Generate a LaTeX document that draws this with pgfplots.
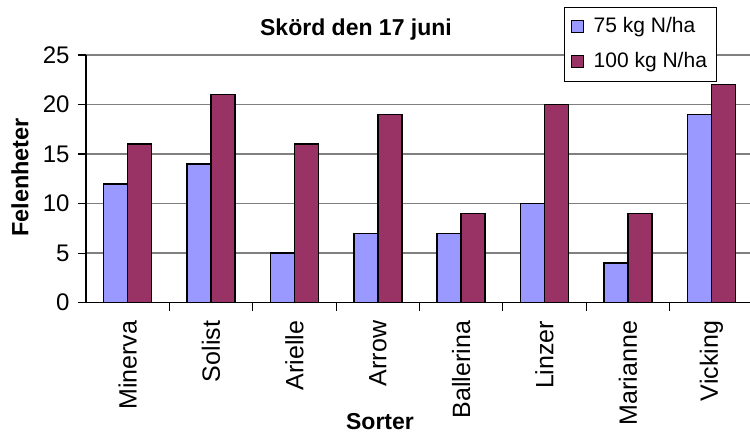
\documentclass[border=0pt]{standalone}
\usepackage{pgfplots}
\pgfplotsset{compat=1.18}
\usepackage{fontspec}
\setmainfont{Liberation Sans}
\definecolor{cblue}{HTML}{9999FF}
\definecolor{cred}{HTML}{993366}
\definecolor{cgrid}{HTML}{808080}
\begin{document}
\begin{tikzpicture}[x=1pt,y=1pt]
\path[use as bounding box] (0,0) rectangle (750,438);
\begin{axis}[
  at={(86pt,135.3pt)}, anchor=south west,
  scale only axis, width=667pt, height=247.7pt,
  xmin=-0.5, xmax=7.5, ymin=0, ymax=25,
  ybar=0pt, bar width=24pt,
  axis x line*=bottom, axis y line*=left,
  axis line style={black, line width=1.4pt, -},
  xtick={0,...,7},
  xticklabels={Minerva,Solist,Arielle,Arrow,Ballerina,Linzer,Marianne,Vicking},
  minor xtick={0.5,1.5,...,6.5},
  ytick={0,5,...,25},
  tick align=outside,
  major tick length=8pt, minor tick length=8pt,
  major x tick style={draw=none},
  every tick/.append style={black, line width=1.2pt},
  ymajorgrids, major grid style={cgrid, line width=1.4pt},
  /pgf/number format/assume math mode=true,
  yticklabel style={font=\fontsize{24}{28}\selectfont, xshift=-5pt},
  xticklabel style={font=\fontsize{25}{28}\selectfont, rotate=90, anchor=east, inner sep=10pt},
  xlabel={\textbf{Sorter}},
  xlabel style={font=\fontsize{23}{27}\selectfont, at={(rel axis cs:0.4408,0)}, anchor=base, yshift=-127.3pt},
  ylabel={\textbf{Felenheter}},
  ylabel style={font=\fontsize{23.5}{27}\selectfont, at={(rel axis cs:0,0.5055)}, anchor=center, yshift=66pt},
  legend style={at={(rel axis cs:0.7166,1.1938)}, anchor=north west, draw=black, line width=1pt, fill=white,
    font=\fontsize{21}{25}\selectfont, inner sep=7pt, row sep=10pt,
    nodes={text height=15pt, text depth=4pt, inner sep=3pt}},
  legend cell align=left,
  legend image code/.code={\draw[#1, line width=1pt] (0pt,-6pt) rectangle (12pt,6pt); \path (18pt,0pt);},
  clip=true,
]
\addplot[fill=cblue, draw=black, line width=1.5pt] coordinates {(0,12) (1,14) (2,5) (3,7) (4,7) (5,10) (6,4) (7,19)};
\addplot[fill=cred, draw=black, line width=1.5pt] coordinates {(0,16) (1,21) (2,16) (3,19) (4,9) (5,20) (6,9) (7,22)};
\legend{75 kg N/ha, 100 kg N/ha}
\end{axis}
\node[font=\fontsize{23}{27}\selectfont\bfseries, anchor=base] at (356,402) {Skörd den 17 juni};
\end{tikzpicture}
\end{document}
